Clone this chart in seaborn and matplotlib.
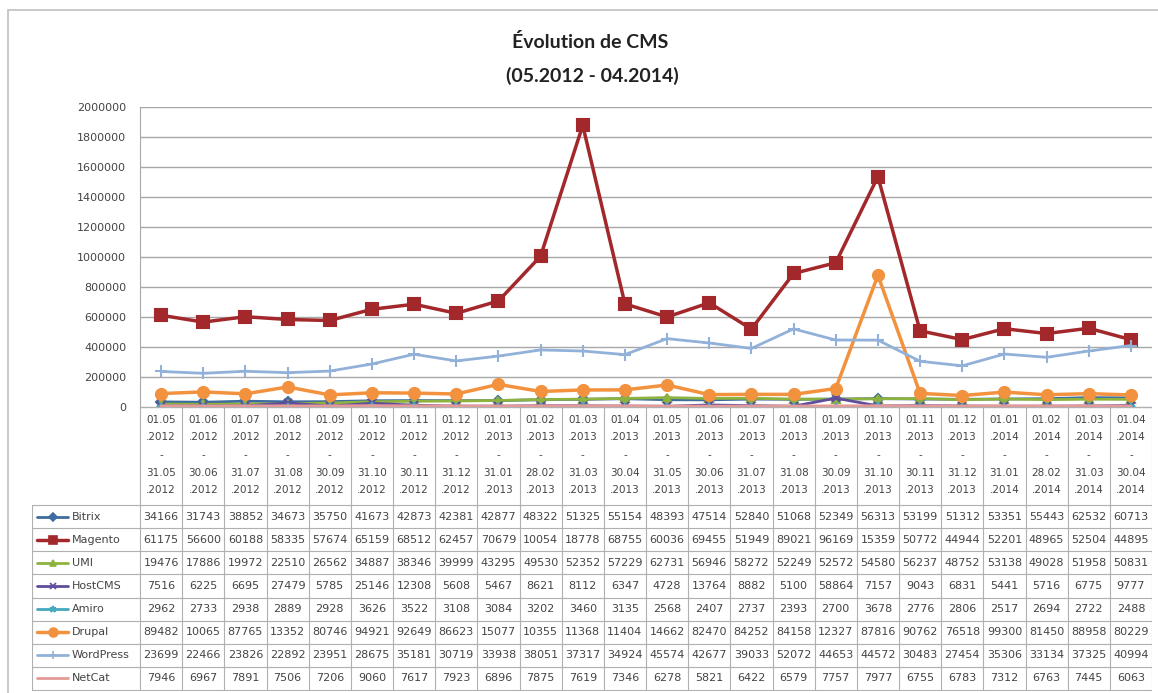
import numpy as np
import pandas as pd
import seaborn as sns
import matplotlib.pyplot as plt
from matplotlib.patches import Rectangle

# periods (one column per month)
period_start = ["01.05", "01.06", "01.07", "01.08", "01.09", "01.10", "01.11", "01.12",
                "01.01", "01.02", "01.03", "01.04", "01.05", "01.06", "01.07", "01.08",
                "01.09", "01.10", "01.11", "01.12", "01.01", "01.02", "01.03", "01.04"]
period_end = ["31.05", "30.06", "31.07", "31.08", "30.09", "31.10", "30.11", "31.12",
              "31.01", "28.02", "31.03", "30.04", "31.05", "30.06", "31.07", "31.08",
              "30.09", "31.10", "30.11", "31.12", "31.01", "28.02", "31.03", "30.04"]
years = ["2012"] * 8 + ["2013"] * 12 + ["2014"] * 4

# values per CMS (table cells only show the first 5 digits)
bitrix = [34166, 31743, 38852, 34673, 35750, 41673, 42873, 42381, 42877, 48322, 51325, 55154,
          48393, 47514, 52840, 51068, 52349, 56313, 53199, 51312, 53351, 55443, 62532, 60713]
magento = [611750, 566000, 601880, 583350, 576740, 651590, 685120, 624570, 706790, 1005400, 1877800, 687550,
           600360, 694550, 519490, 890210, 961690, 1535900, 507720, 449440, 522010, 489650, 525040, 448950]
umi = [19476, 17886, 19972, 22510, 26562, 34887, 38346, 39999, 43295, 49530, 52352, 57229,
       62731, 56946, 58272, 52249, 52572, 54580, 56237, 48752, 53138, 49028, 51958, 50831]
hostcms = [7516, 6225, 6695, 27479, 5785, 25146, 12308, 5608, 5467, 8621, 8112, 6347,
           4728, 13764, 8882, 5100, 58864, 7157, 9043, 6831, 5441, 5716, 6775, 9777]
amiro = [2962, 2733, 2938, 2889, 2928, 3626, 3522, 3108, 3084, 3202, 3460, 3135,
         2568, 2407, 2737, 2393, 2700, 3678, 2776, 2806, 2517, 2694, 2722, 2488]
drupal = [89482, 100650, 87765, 133520, 80746, 94921, 92649, 86623, 150770, 103550, 113680, 114040,
          146620, 82470, 84252, 84158, 123270, 878160, 90762, 76518, 99300, 81450, 88958, 80229]
wordpress = [236990, 224660, 238260, 228920, 239510, 286750, 351810, 307190, 339380, 380510, 373170, 349240,
             455740, 426770, 390330, 520720, 446530, 445720, 304830, 274540, 353060, 331340, 373250, 409940]
netcat = [7946, 6967, 7891, 7506, 7206, 9060, 7617, 7923, 6896, 7875, 7619, 7346,
          6278, 5821, 6422, 6579, 7757, 7977, 6755, 6783, 7312, 6763, 7445, 6063]

series = ["Bitrix", "Magento", "UMI", "HostCMS", "Amiro", "Drupal", "WordPress", "NetCat"]
df = pd.DataFrame({"idx": np.arange(24), "Bitrix": bitrix, "Magento": magento, "UMI": umi,
                   "HostCMS": hostcms, "Amiro": amiro, "Drupal": drupal,
                   "WordPress": wordpress, "NetCat": netcat})

# color, marker, markersize, linewidth
styles = {
    "Bitrix": ("#3E6C9E", "D", 5, 2),
    "Magento": ("#A3282B", "s", 8, 2.5),
    "UMI": ("#8DB33E", "^", 6, 2),
    "HostCMS": ("#604C9B", "x", 6, 2),
    "Amiro": ("#45A8BE", "*", 6, 2),
    "Drupal": ("#F3923E", "o", 8, 2.5),
    "WordPress": ("#92B1D8", "+", 8, 2),
    "NetCat": ("#E49A98", None, 0, 2),
}

sns.set_style("white")
plt.rcParams["font.family"] = ["DejaVu Sans"]

W, H = 1158, 693
fig = plt.figure(figsize=(W / 100, H / 100), dpi=100)

def fbox(x0, y0, x1, y1):
    return [x0 / W, 1 - y1 / H, (x1 - x0) / W, (y1 - y0) / H]

# outer frame
fig.add_artist(Rectangle((8 / W, -0.02), 1.0, 1 - 10 / H + 0.02, transform=fig.transFigure,
                         fill=False, edgecolor="#C0C0C0", lw=1.2))

fig.text(590 / W, 1 - 42 / H, "Évolution de CMS", ha="center", va="center",
         fontsize=14, fontweight="bold", family=["Lato", "DejaVu Sans"], color="#222222")
fig.text(592 / W, 1 - 76 / H, "(05.2012 - 04.2014)", ha="center", va="center",
         fontsize=14, fontweight="bold", family=["Lato", "DejaVu Sans"], color="#222222")

# main plot
ax = fig.add_axes(fbox(140, 107, 1152, 407))
for name in series:
    c, m, ms, lw = styles[name]
    kw = dict(color=c, linewidth=lw)
    if m:
        kw.update(marker=m, markersize=ms, markeredgecolor=c, markerfacecolor=c, markeredgewidth=1.5)
    sns.lineplot(data=df, x="idx", y=name, ax=ax, **kw)

ax.set_xlim(-0.5, 23.5)
ax.set_ylim(0, 2000000)
ax.set_yticks(np.arange(0, 2000001, 200000))
ax.set_yticklabels([str(v) for v in range(0, 2000001, 200000)], fontsize=8, color="#444444")
ax.set_xticks([])
ax.set_xlabel("")
ax.set_ylabel("")
ax.grid(axis="y", color="#A8A8A8", lw=1)
ax.tick_params(axis="y", length=0, pad=10)
for s in ["top", "right", "bottom"]:
    ax.spines[s].set_visible(False)
ax.spines["left"].set_color("#A8A8A8")

# data table
colw = (1152 - 140) / 24
x0 = -0.5 - (140 - 32) / colw
axt = fig.add_axes(fbox(32, 407, 1152, 691))
axt.set_xlim(x0, 23.5)
axt.set_ylim(691, 407)
axt.axis("off")

gc = "#B0B0B0"
row_top = 505
row_h = (690 - 505) / 8
for k in range(25):
    axt.plot([k - 0.5, k - 0.5], [407, 690], color=gc, lw=0.8)
axt.plot([x0, x0], [row_top, 690], color=gc, lw=0.8)
axt.plot([-0.5, 23.5], [407, 407], color=gc, lw=1)
for r in range(9):
    yy = row_top + r * row_h
    axt.plot([x0, 23.5], [yy, yy], color=gc, lw=0.8)

tc = "#444444"
for i in range(24):
    lines = [period_start[i], "." + years[i], "-", period_end[i], "." + years[i]]
    for j, t in enumerate(lines):
        axt.text(i, 420 + j * 17.5, t, ha="center", va="center", fontsize=7.5, color=tc)

for r, name in enumerate(series):
    yc = row_top + (r + 0.5) * row_h
    c, m, ms, lw = styles[name]
    lx = lambda px: x0 + (px - 32) / colw
    axt.plot([lx(37), lx(68)], [yc, yc], color=c, lw=lw)
    if m:
        axt.plot([lx(52.5)], [yc], marker=m, markersize=ms * 0.8, color=c, markeredgecolor=c,
                 markeredgewidth=1.2)
    axt.text(lx(72), yc, name, ha="left", va="center", fontsize=8, color=tc)
    vals = df[name].tolist()
    for i, v in enumerate(vals):
        axt.text(i, yc, str(v)[:5], ha="center", va="center", fontsize=8, color=tc)

fig.savefig("out.png", dpi=100)
